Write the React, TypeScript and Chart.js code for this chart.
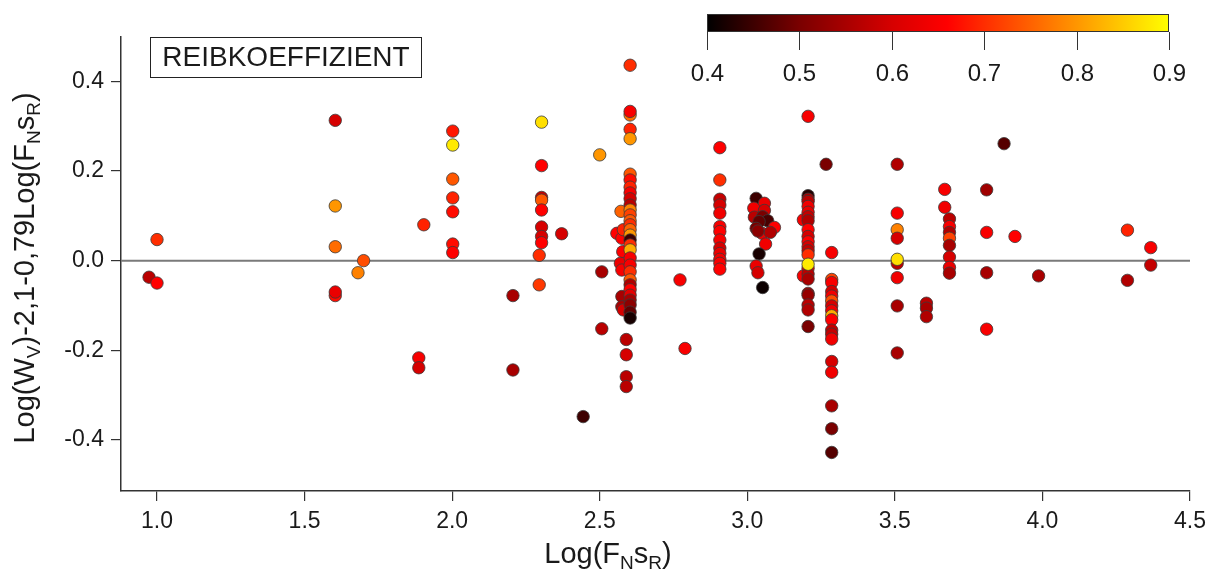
import React, { useEffect, useRef } from "react";
import { Chart, registerables } from "chart.js";

Chart.register(...registerables);

// Log(F_N s_R)
const logFsR: number[] = [
  0.973, 1.0, 1.0,
  1.604, 1.604, 1.604, 1.604, 1.604, 1.681, 1.7,
  1.887, 1.887, 1.904,
  2.002, 2.002, 2.002, 2.002, 2.002, 2.002, 2.002,
  2.206, 2.206,
  2.303, 2.303, 2.303, 2.303, 2.303, 2.303, 2.303, 2.303, 2.295, 2.295, 2.371, 2.444,
  2.5, 2.507, 2.507,
  2.572, 2.558, 2.575, 2.58, 2.578, 2.57, 2.575, 2.575, 2.575, 2.58, 2.59, 2.59, 2.59, 2.59,
  2.603, 2.603, 2.603, 2.603, 2.603, 2.603, 2.603, 2.603, 2.603, 2.603, 2.603, 2.603, 2.603,
  2.603, 2.603, 2.603, 2.603, 2.603, 2.603, 2.603, 2.603, 2.603, 2.603, 2.603, 2.603, 2.603,
  2.603, 2.603, 2.603, 2.603, 2.603,
  2.772, 2.789,
  2.907, 2.907, 2.907, 2.907, 2.907, 2.907, 2.907, 2.907, 2.907, 2.907, 2.907, 2.907, 2.907,
  3.03, 3.058, 3.022, 3.058, 3.024, 3.052, 3.069, 3.04, 3.092, 3.03, 3.05, 3.078, 3.036, 3.062, 3.04, 3.03, 3.036, 3.052,
  3.19, 3.19,
  3.206, 3.206, 3.206, 3.206, 3.206, 3.206, 3.206, 3.206, 3.206, 3.206, 3.206, 3.206, 3.206,
  3.206, 3.206, 3.206, 3.206, 3.206, 3.206, 3.206, 3.206, 3.206, 3.206,
  3.267,
  3.286, 3.286, 3.286, 3.286, 3.286, 3.286, 3.286, 3.286, 3.286, 3.286, 3.286, 3.286, 3.286,
  3.286, 3.286, 3.286, 3.286, 3.286,
  3.508, 3.508, 3.508, 3.508, 3.508, 3.508, 3.508, 3.508, 3.508,
  3.607, 3.607, 3.607,
  3.669, 3.669, 3.685, 3.685, 3.685, 3.685, 3.685, 3.685, 3.685, 3.685,
  3.811, 3.811, 3.811, 3.811,
  3.87, 3.907, 3.987,
  4.288, 4.288, 4.367, 4.367,
];

// Log(W_V) - 2,1 - 0,79 Log(F_N s_R)
const residual: number[] = [
  -0.037, -0.05, 0.047,
  0.313, 0.122, 0.031, -0.078, -0.07, -0.027, 0.0,
  -0.217, -0.239, 0.08,
  0.289, 0.258, 0.182, 0.14, 0.109, 0.037, 0.018,
  -0.078, -0.244,
  0.309, 0.212, 0.141, 0.135, 0.113, 0.075, 0.054, 0.04, 0.012, -0.054, 0.06, -0.348,
  0.236, -0.025, -0.152,
  0.11, 0.061, 0.05, 0.069, 0.02, -0.006, -0.021, -0.08, -0.103, -0.11, -0.176, -0.21, -0.259, -0.281,
  0.436, 0.325, 0.333, 0.293, 0.272, 0.193, 0.18, 0.164, 0.151, 0.138, 0.124, 0.113, 0.102,
  0.089, 0.08, 0.069, 0.057, 0.046, 0.035, 0.024, 0.006, -0.01, -0.025, -0.043, -0.054, -0.065,
  -0.077, -0.088, -0.099, -0.115, -0.128,
  -0.043, -0.196,
  0.252, 0.18, 0.137, 0.124, 0.106, 0.076, 0.065, 0.046, 0.028, 0.016, 0.003, -0.006, -0.019,
  0.139, 0.128, 0.117, 0.112, 0.097, 0.098, 0.089, 0.087, 0.074, 0.072, 0.061, 0.063, 0.066, 0.037, 0.015, -0.012, -0.027, -0.06,
  0.091, -0.034,
  0.322, 0.145, 0.137, 0.132, 0.121, 0.108, 0.098, 0.089, 0.069, 0.054, 0.042, 0.031, 0.022,
  0.013, -0.017, -0.03, -0.041, -0.073, -0.077, -0.099, -0.11, -0.147, -0.008,
  0.215,
  0.018, -0.042, -0.049, -0.069, -0.079, -0.09, -0.101, -0.112, -0.123, -0.132, -0.155, -0.164, -0.175,
  -0.225, -0.249, -0.324, -0.375, -0.428,
  0.215, 0.106, 0.069, 0.05, -0.006, 0.003, -0.038, -0.101, -0.206,
  -0.095, -0.106, -0.125,
  0.159, 0.119, 0.093, 0.076, 0.063, 0.05, 0.034, 0.008, -0.015, -0.028,
  0.158, 0.063, -0.027, -0.153,
  0.261, 0.054, -0.034,
  0.068, -0.044, 0.029, -0.01,
];

// Reibkoeffizient (colour value)
const mu: number[] = [
  0.57, 0.66, 0.7,
  0.6, 0.8, 0.76, 0.67, 0.63, 0.78, 0.73,
  0.65, 0.6, 0.69,
  0.68, 0.88, 0.74, 0.69, 0.67, 0.67, 0.66,
  0.55, 0.55,
  0.87, 0.66, 0.58, 0.74, 0.66, 0.6, 0.6, 0.66, 0.7, 0.71, 0.6, 0.45,
  0.8, 0.55, 0.57,
  0.75, 0.66, 0.66, 0.69, 0.66, 0.63, 0.65, 0.55, 0.55, 0.6, 0.57, 0.6, 0.57, 0.57,
  0.7, 0.76, 0.65, 0.69, 0.8, 0.74, 0.67, 0.69, 0.65, 0.6, 0.57, 0.78, 0.72,
  0.74, 0.7, 0.75, 0.8, 0.45, 0.7, 0.82, 0.65, 0.65, 0.7, 0.74, 0.56, 0.66,
  0.62, 0.55, 0.52, 0.48, 0.42,
  0.65, 0.65,
  0.66, 0.7, 0.58, 0.6, 0.64, 0.65, 0.66, 0.65, 0.6, 0.63, 0.64, 0.65, 0.66,
  0.45, 0.63, 0.64, 0.6, 0.57, 0.5, 0.46, 0.48, 0.66, 0.5, 0.63, 0.56, 0.52, 0.64, 0.42, 0.63, 0.6, 0.41,
  0.65, 0.65,
  0.65, 0.43, 0.55, 0.57, 0.64, 0.63, 0.58, 0.56, 0.66, 0.6, 0.66, 0.6, 0.58,
  0.7, 0.62, 0.57, 0.55, 0.55, 0.53, 0.57, 0.56, 0.5, 0.88,
  0.5,
  0.65, 0.72, 0.65, 0.6, 0.64, 0.73, 0.6, 0.64, 0.82, 0.66, 0.58, 0.58, 0.64,
  0.6, 0.64, 0.55, 0.5, 0.47,
  0.56, 0.65, 0.78, 0.6, 0.57, 0.87, 0.64, 0.55, 0.55,
  0.57, 0.55, 0.56,
  0.65, 0.64, 0.57, 0.65, 0.56, 0.72, 0.55, 0.6, 0.63, 0.55,
  0.54, 0.65, 0.55, 0.65,
  0.47, 0.66, 0.55,
  0.69, 0.56, 0.65, 0.58,
];

const xTicks = [1.0, 1.5, 2.0, 2.5, 3.0, 3.5, 4.0, 4.5];
const yTicks = [-0.4, -0.2, 0.0, 0.2, 0.4];
const cbarTicks = [0.4, 0.5, 0.6, 0.7, 0.8, 0.9];
const titleText = "REIBKOEFFIZIENT";
const xTitleParts: [string, boolean][] = [["Log(F", false], ["N", true], ["s", false], ["R", true], [")", false]];
const yTitleParts: [string, boolean][] = [
  ["Log(W", false], ["V", true], [")-2,1-0,79Log(F", false], ["N", true], ["s", false], ["R", true], [")", false],
];

const CMIN = 0.4;
const CMAX = 0.9;
const cmapStops: [number, number[]][] = [
  [0.4, [0, 0, 0]],
  [0.5, [122, 0, 0]],
  [0.6, [214, 0, 0]],
  [0.66, [255, 0, 0]],
  [0.7, [255, 45, 0]],
  [0.8, [255, 150, 0]],
  [0.9, [255, 255, 0]],
];

function colorFor(v: number): string {
  const c = Math.max(CMIN, Math.min(CMAX, v));
  for (let i = 0; i < cmapStops.length - 1; i++) {
    const [a, ca] = cmapStops[i];
    const [b, cb] = cmapStops[i + 1];
    if (c >= a && c <= b) {
      const t = (c - a) / (b - a);
      const r = Math.round(ca[0] + (cb[0] - ca[0]) * t);
      const g = Math.round(ca[1] + (cb[1] - ca[1]) * t);
      const bl = Math.round(ca[2] + (cb[2] - ca[2]) * t);
      return `rgb(${r},${g},${bl})`;
    }
  }
  return "rgb(255,255,0)";
}

const FONT = '"Liberation Sans", Arial, Helvetica, sans-serif';

function drawRich(ctx: CanvasRenderingContext2D, parts: [string, boolean][], cx: number, baseY: number, size: number) {
  const sub = Math.round(size * 0.66);
  let total = 0;
  for (const [t, s] of parts) {
    ctx.font = `${s ? sub : size}px ${FONT}`;
    total += ctx.measureText(t).width;
  }
  let x = cx - total / 2;
  ctx.textAlign = "left";
  ctx.textBaseline = "alphabetic";
  for (const [t, s] of parts) {
    ctx.font = `${s ? sub : size}px ${FONT}`;
    ctx.fillText(t, x, s ? baseY + size * 0.22 : baseY);
    x += ctx.measureText(t).width;
  }
}

const decorPlugin = {
  id: "decor",
  beforeDatasetsDraw(chart: any) {
    const { ctx, chartArea, scales } = chart;
    const y0 = scales.y.getPixelForValue(0);
    ctx.save();
    ctx.strokeStyle = "#7a7a7a";
    ctx.lineWidth = 2;
    ctx.beginPath();
    ctx.moveTo(chartArea.left, y0);
    ctx.lineTo(chartArea.right, y0);
    ctx.stroke();
    ctx.restore();
  },
  afterDraw(chart: any) {
    const { ctx } = chart;
    ctx.save();

    // title box
    ctx.fillStyle = "#ffffff";
    ctx.fillRect(150, 37, 271, 40);
    ctx.strokeStyle = "#222";
    ctx.lineWidth = 1;
    ctx.strokeRect(150.5, 37.5, 271, 40);
    ctx.fillStyle = "#1a1a1a";
    ctx.font = `28px ${FONT}`;
    ctx.textAlign = "center";
    ctx.textBaseline = "middle";
    ctx.fillText(titleText, 286, 58);

    // colour bar
    const bx0 = 707, bx1 = 1169, by0 = 14, by1 = 32;
    const grad = ctx.createLinearGradient(bx0, 0, bx1, 0);
    for (const [v, c] of cmapStops) {
      grad.addColorStop((v - CMIN) / (CMAX - CMIN), `rgb(${c[0]},${c[1]},${c[2]})`);
    }
    ctx.fillStyle = grad;
    ctx.fillRect(bx0, by0, bx1 - bx0, by1 - by0);
    ctx.strokeStyle = "#333";
    ctx.lineWidth = 1;
    ctx.strokeRect(bx0 + 0.5, by0 + 0.5, bx1 - bx0 - 1, by1 - by0 - 1);
    ctx.fillStyle = "#1a1a1a";
    ctx.font = `24px ${FONT}`;
    ctx.textAlign = "center";
    ctx.textBaseline = "middle";
    for (const v of cbarTicks) {
      const x = Math.round(bx0 + ((v - CMIN) / (CMAX - CMIN)) * (bx1 - bx0)) + 0.5;
      ctx.beginPath();
      ctx.moveTo(x, by1);
      ctx.lineTo(x, 50);
      ctx.stroke();
      ctx.fillText(v.toFixed(1), x, 74);
    }

    // axis titles
    ctx.fillStyle = "#1a1a1a";
    drawRich(ctx, xTitleParts, 608, 563, 29);
    ctx.save();
    ctx.translate(34, 268);
    ctx.rotate(-Math.PI / 2);
    drawRich(ctx, yTitleParts, 0, 0, 29);
    ctx.restore();

    ctx.restore();
  },
};

export default function App() {
  const ref = useRef<HTMLCanvasElement | null>(null);

  useEffect(() => {
    document.body.style.margin = "0";
    const canvas = ref.current;
    if (!canvas) return;
    const points = logFsR.map((x, i) => ({ x, y: residual[i] }));
    const colors = mu.map(colorFor);
    const chart = new Chart(canvas, {
      type: "scatter",
      data: {
        datasets: [
          {
            data: points,
            pointRadius: 6.2,
            pointHoverRadius: 6.2,
            pointBackgroundColor: colors,
            pointBorderColor: "#3a3a3a",
            pointBorderWidth: 0.8,
          },
        ],
      },
      options: {
        animation: false,
        responsive: false,
        devicePixelRatio: 1,
        layout: { padding: { top: 37, right: 24, left: 0, bottom: 0 } },
        plugins: { legend: { display: false }, tooltip: { enabled: false } },
        scales: {
          x: {
            type: "linear",
            min: 0.878,
            max: 4.5,
            afterBuildTicks: (s: any) => {
              s.ticks = xTicks.map((v) => ({ value: v }));
            },
            afterFit: (s: any) => {
              s.height = 84;
            },
            ticks: {
              autoSkip: false,
              maxRotation: 0,
              padding: 7,
              color: "#1a1a1a",
              font: { size: 23, family: FONT },
              callback: (v: any) => Number(v).toFixed(1),
            },
            grid: { display: true, drawOnChartArea: false, drawTicks: true, tickLength: 10, color: "#333", lineWidth: 1.2 },
            border: { display: true, color: "#333", width: 1.5 },
          },
          y: {
            type: "linear",
            min: -0.514,
            max: 0.499,
            afterBuildTicks: (s: any) => {
              s.ticks = yTicks.map((v) => ({ value: v }));
            },
            afterFit: (s: any) => {
              s.width = 121;
            },
            ticks: {
              autoSkip: false,
              padding: 7,
              color: "#1a1a1a",
              font: { size: 23, family: FONT },
              callback: (v: any) => Number(v).toFixed(1),
            },
            grid: { display: true, drawOnChartArea: false, drawTicks: true, tickLength: 10, color: "#333", lineWidth: 1.2 },
            border: { display: true, color: "#333", width: 1.5 },
          },
        },
      },
      plugins: [decorPlugin],
    } as any);
    return () => chart.destroy();
  }, []);

  return (
    <div style={{ width: 1214, height: 575 }}>
      <canvas ref={ref} width={1214} height={575} style={{ display: "block" }} />
    </div>
  );
}
